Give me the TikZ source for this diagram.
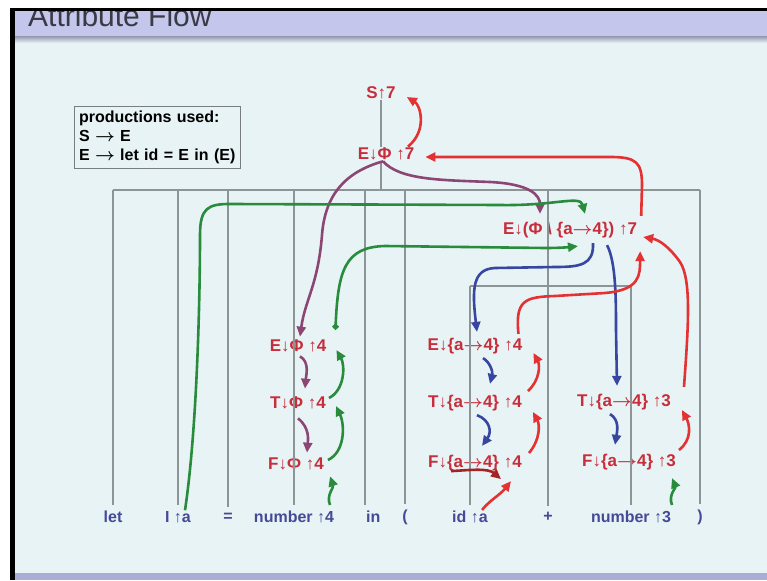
\documentclass[tikz,border=0pt]{standalone}
\usepackage{amsmath}
\usepackage{fontspec}
\setmainfont{Liberation Sans}
\usetikzlibrary{arrows.meta,calc}
\definecolor{slidebg}{RGB}{231,243,245}
\definecolor{titlebar}{RGB}{196,199,235}
\definecolor{barshade}{RGB}{160,163,185}
\definecolor{botbar}{RGB}{170,173,216}
\definecolor{titlegray}{RGB}{58,58,70}
\definecolor{attrred}{RGB}{200,45,60}
\definecolor{tokblue}{RGB}{70,74,150}
\definecolor{treegray}{RGB}{140,148,150}
\definecolor{boxgray}{RGB}{120,125,128}
\definecolor{purp}{RGB}{140,70,115}
\definecolor{grn}{RGB}{40,140,60}
\definecolor{blu}{RGB}{55,70,160}
\definecolor{redarr}{RGB}{228,50,50}
\definecolor{darkred}{RGB}{165,35,35}
\newcommand{\mapto}{$\boldsymbol{\rightarrow}$}
\tikzset{
  attr/.style={text=attrred,font=\bfseries\fontsize{17}{19}\selectfont,inner sep=1pt},
  tok/.style={text=tokblue,font=\bfseries\fontsize{16}{18}\selectfont,inner sep=1pt,outer ysep=5pt},
  tree/.style={draw=treegray,line width=1.3pt},
  flow/.style={line width=2.6pt,-{Triangle[length=10pt,width=9pt]}}
}
\begin{document}
\begin{tikzpicture}[x=1pt,y=-1pt]
\useasboundingbox (0,0) rectangle (767,580);
\fill[white] (0,0) rectangle (767,580);
\fill[slidebg] (14,10) rectangle (767,580);
\fill[titlebar] (14,10) rectangle (767,37);
\shade[top color=barshade,bottom color=slidebg] (14,37) rectangle (767,43);
\node[anchor=base west,text=titlegray,font=\fontsize{30}{30}\selectfont,inner sep=0pt] (title) at (28,27) {Attribute Flow};
\fill[white] (0,0) rectangle (767,8);
\fill[black] (10,8) rectangle (767,11);
\fill[black] (10,8) rectangle (15,580);
\fill[botbar] (15,573) rectangle (767,580);

\node[draw=boxgray,line width=1pt,anchor=north west,align=left,text width=157pt,inner sep=4.5pt,font=\bfseries\fontsize{16}{19}\selectfont] (prods) at (74,106) {productions used:\\S \mapto\ E\\E \mapto\ let id = E in (E)};

\coordinate (bar) at (0,190);
\coordinate (bar2) at (0,286);
\node[tok] (tlet) at (113,517) {let};
\node[tok] (tida) at (178,517) {I ↑a};
\node[tok] (teq) at (228,517) {=};
\node[tok] (tnum4) at (294,517) {number ↑4};
\node[tok,anchor=west] (tin) at (365,517) {in};
\node[tok] (tlp) at (405,517) {(};
\node[tok] (tidb) at (470,517) {id ↑a};
\node[tok] (tplus) at (548,517) {+};
\node[tok] (tnum3) at (631,517) {number ↑3};
\node[tok] (trp) at (700,517) {)};

\node[attr] (s7) at (381,93) {S↑7};
\node[attr] (ephi7) at (386,154) {E↓Φ ↑7};
\node[attr] (eenv7) at (570,230) {E↓(Φ \textbackslash\ \{a\mapto4\}) ↑7};
\node[attr] (ephi4) at (298,346) {E↓Φ ↑4};
\node[attr] (tphi4) at (298,403) {T↓Φ ↑4};
\node[attr] (fphi4) at (296,464) {F↓Φ ↑4};
\node[attr] (eenv4) at (475,346) {E↓\{a\mapto4\} ↑4};
\node[attr] (tenv4) at (475,403) {T↓\{a\mapto4\} ↑4};
\node[attr] (fenv4) at (475,463) {F↓\{a\mapto4\} ↑4};
\node[attr] (tenv3) at (624,402) {T↓\{a\mapto4\} ↑3};
\node[attr] (fenv3) at (629,462) {F↓\{a\mapto4\} ↑3};

\begin{scope}[on background layer/.try]
\draw[tree] (s7.south) -- (s7.south |- ephi7.north) (s7.south |- ephi7.south) -- (s7.south |- bar);
\draw[tree] (tlet.north |- bar) -- (trp.north |- bar);
\draw[tree] (tidb.north |- bar2) -- (tnum3.north |- bar2);
\foreach \t in {tlet,tida,teq,tnum4,tlp,tplus,trp}
  \draw[tree] (\t.north |- bar) -- (\t.north);
\draw[tree] (tin.north west |- bar) -- (tin.north west);
\foreach \t in {tidb,tnum3}
  \draw[tree] (\t.north |- bar2) -- (\t.north);
\end{scope}

\draw[flow,purp] ([xshift=-3]ephi7.south) .. controls (345,172) and (325,195) .. (322,235) .. controls (318,285) and (305,300) .. ([xshift=2,yshift=2]ephi4.north);
\draw[flow,purp] ([xshift=-3]ephi7.south) .. controls (400,180) and (440,180) .. (490,182) .. controls (530,184) and (540,195) .. ([xshift=-30,yshift=7]eenv7.north);
\draw[flow,purp] ([xshift=2,yshift=-3]ephi4.south) .. controls (310,362) and (306,376) .. ([xshift=7,yshift=7]tphi4.north);
\draw[flow,purp] ([xshift=0,yshift=-8]tphi4.south) .. controls (310,428) and (308,440) .. ([xshift=11,yshift=4]fphi4.north);

\draw[flow,grn] ([xshift=7,yshift=-5]tida.north) .. controls (197,430) and (200,300) .. (200,235) .. controls (200,208) and (208,204) .. (230,204) -- (500,205) .. controls (555,206) and (580,195) .. ([xshift=15,yshift=7]eenv7.north);
\draw[flow,grn,{Circle[open,length=6pt,width=6pt]}-{Triangle[length=10pt,width=9pt]}] ([xshift=8,yshift=9]ephi4.north east) .. controls (338,270) and (345,247) .. (385,246) -- (545,248) .. controls (562,248) and (570,247) .. ([xshift=8,yshift=-7]eenv7.south);
\draw[flow,grn] ([xshift=3,yshift=4]fphi4.east) .. controls (345,452) and (345,425) .. ([xshift=9,yshift=-3]tphi4.east);
\draw[flow,grn] ([xshift=2,yshift=5]tphi4.east) .. controls (345,390) and (345,365) .. ([xshift=9,yshift=-4]ephi4.east);
\draw[flow,grn] ([xshift=36]tnum4.north) .. controls (326,495) and (334,488) .. ([xshift=34,yshift=-5]fphi4.south);
\draw[flow,grn] ([xshift=41]tnum3.north) .. controls (668,495) and (676,488) .. ([xshift=43,yshift=-7]fenv3.south);

\draw[flow,blu] ([xshift=23,yshift=-4]eenv7.south) .. controls (594,265) and (580,267) .. (555,267) -- (495,268) .. controls (472,269) and (472,290) .. ([xshift=2,yshift=5]eenv4.north);
\draw[flow,blu] ([xshift=37,yshift=-6]eenv7.south) .. controls (616,262) and (616,300) .. (616,330) -- ([xshift=-7,yshift=7]tenv3.north);
\draw[flow,blu] ([xshift=8,yshift=-3]eenv4.south) .. controls (490,362) and (493,372) .. ([xshift=15,yshift=10]tenv4.north);
\draw[flow,blu] ([xshift=2,yshift=-3]tenv4.south) .. controls (490,420) and (492,432) .. ([xshift=7,yshift=8]fenv4.north);
\draw[flow,blu] ([xshift=-14,yshift=-3]tenv3.south) .. controls (620,420) and (617,432) .. ([xshift=-14,yshift=8]fenv3.north);

\draw[flow,redarr] ([xshift=22]ephi7.north) .. controls (428,130) and (420,105) .. ([xshift=10,yshift=-4]s7.east);
\draw[flow,redarr] ([xshift=3,yshift=5]eenv7.north east) -- (642,185) .. controls (642,162) and (636,157) .. (610,157) -- ([xshift=10,yshift=-3]ephi7.east);
\draw[flow,redarr] ([xshift=-5,yshift=3]eenv4.north east) .. controls (515,300) and (525,297) .. (555,296) -- (605,293) .. controls (640,290) and (640,275) .. ([xshift=2,yshift=-12]eenv7.south east);
\draw[flow,redarr] ([xshift=12,yshift=6]tenv3.north east) .. controls (688,330) and (692,280) .. (680,262) .. controls (670,248) and (660,240) .. ([xshift=5,yshift=-7]eenv7.east);
\draw[flow,redarr] ([xshift=6,yshift=10]fenv4.east) .. controls (540,440) and (540,425) .. ([xshift=10,yshift=-9]tenv4.east);
\draw[flow,redarr] ([xshift=5,yshift=12]tenv4.east) .. controls (540,380) and (540,365) .. ([xshift=10,yshift=-7]eenv4.east);
\draw[flow,redarr] ([xshift=2,yshift=12]fenv3.east) .. controls (692,440) and (690,425) .. ([xshift=10,yshift=-8]tenv3.east);
\draw[flow,redarr] ([xshift=12,yshift=-5]tidb.north) .. controls (490,500) and (500,495) .. ([xshift=-12,yshift=-9]fenv4.south east);
\draw[flow,darkred] ([xshift=24,yshift=1]fenv4.south west) .. controls (470,470) and (488,468) .. ([xshift=-22,yshift=-7]fenv4.south east);
\end{tikzpicture}
\end{document}
